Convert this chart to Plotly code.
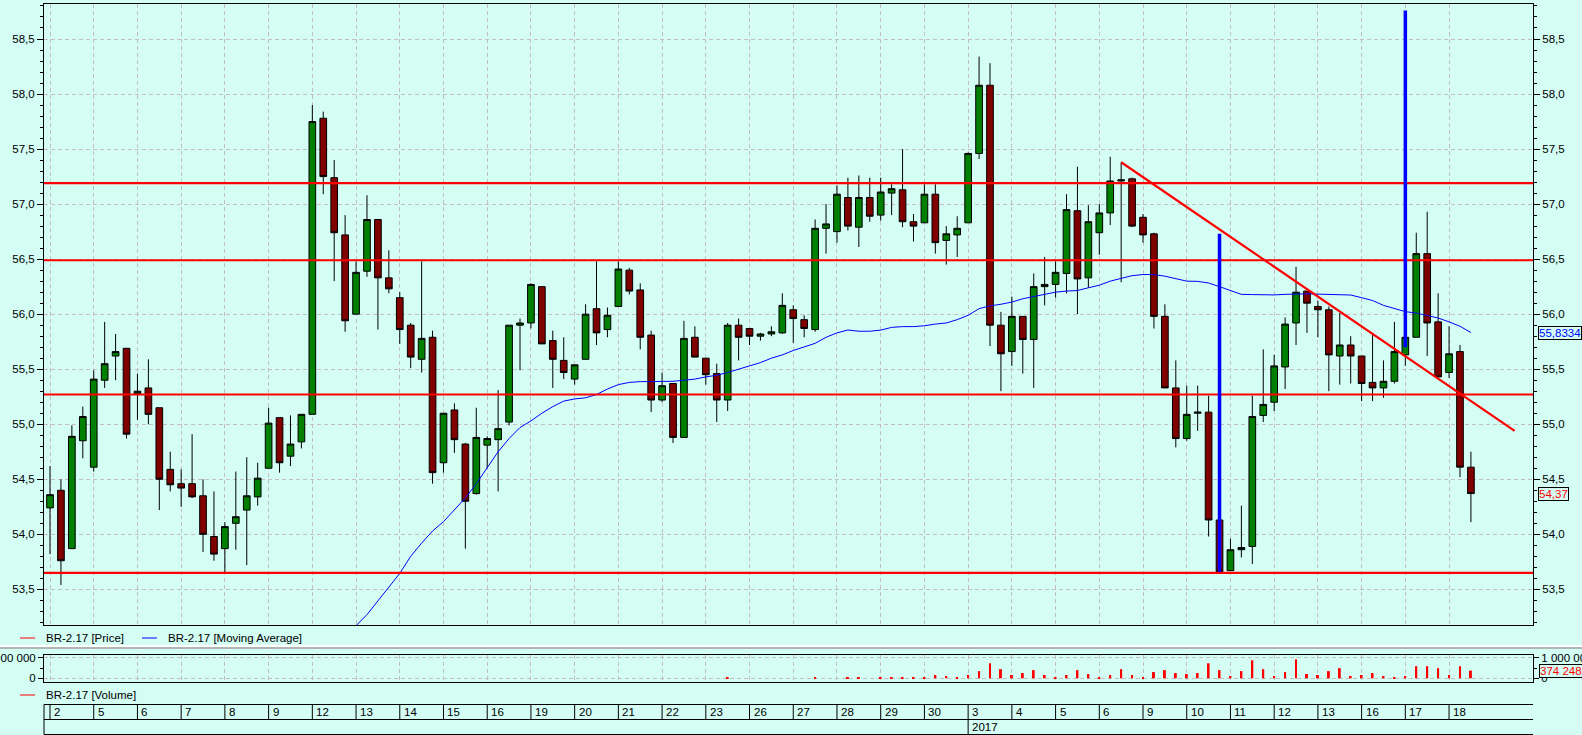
import plotly.graph_objects as go

# ---------------- data ----------------
day_labels = ['2', '5', '6', '7', '8', '9', '12', '13', '14', '15', '16', '19', '20', '21', '22',
              '23', '26', '27', '28', '29', '30', '3', '4', '5', '6', '9', '10', '11', '12', '13',
              '16', '17', '18']
bars_per_day = 4
year_label = '2017'
year_day = 21  # position of 3 Jan in day_labels

open_ = [54.24, 54.40, 53.87, 54.85, 54.61, 55.40, 55.62, 55.69, 55.28, 55.33,
         55.15, 54.59, 54.46, 54.46, 54.35, 53.98, 53.87, 54.10, 54.22, 54.34,
         54.60, 55.06, 54.71, 54.84, 55.09, 57.78, 57.24, 56.72, 56.00, 56.39,
         56.86, 56.33, 56.15, 55.90, 55.59, 55.79, 54.65, 55.13, 54.82, 54.37,
         54.81, 54.86, 55.02, 55.90, 55.92, 56.25, 55.76, 55.58, 55.41, 55.59,
         56.05, 55.86, 56.07, 56.40, 56.22, 55.81, 55.22, 55.37, 54.88, 55.79,
         55.60, 55.46, 55.22, 55.90, 55.87, 55.80, 55.82, 55.83, 56.04, 55.95,
         55.86, 56.78, 56.75, 57.06, 56.79, 57.06, 56.90, 57.10, 57.13, 56.84,
         56.83, 57.09, 56.67, 56.72, 56.83, 57.46, 58.08, 55.90, 55.66, 55.98,
         55.77, 56.25, 56.27, 56.37, 56.94, 56.33, 56.74, 56.92, 57.21, 57.23,
         56.88, 56.73, 55.98, 55.33, 54.87, 55.10, 55.11, 54.13, 53.67, 53.86,
         53.89, 55.08, 55.20, 55.52, 55.92, 56.21, 56.07, 56.04, 55.62, 55.72,
         55.62, 55.38, 55.33, 55.39, 55.63, 55.79, 56.55, 55.93, 55.47, 55.66,
         54.61]
high = [54.62, 54.50, 54.99, 55.16, 55.49, 55.93, 55.82, 55.69, 55.46, 55.59,
        55.15, 54.75, 54.59, 54.91, 54.50, 54.39, 54.11, 54.57, 54.70, 54.65,
        55.15, 55.06, 55.08, 55.09, 57.90, 57.84, 57.40, 56.90, 56.48, 57.08,
        56.86, 56.58, 56.20, 55.92, 56.48, 55.85, 55.10, 55.19, 54.83, 55.15,
        54.89, 55.31, 55.90, 55.96, 56.28, 56.25, 55.85, 55.79, 55.54, 56.09,
        56.48, 56.06, 56.48, 56.42, 56.28, 55.85, 55.47, 55.37, 55.94, 55.89,
        55.60, 55.55, 55.92, 55.96, 55.87, 55.83, 55.89, 56.19, 56.08, 55.99,
        56.86, 57.00, 57.17, 57.24, 57.26, 57.24, 57.24, 57.18, 57.50, 56.91,
        57.18, 57.18, 56.80, 56.89, 57.47, 58.34, 58.28, 56.02, 56.16, 55.98,
        56.37, 56.52, 56.48, 57.09, 57.34, 56.99, 57.00, 57.43, 57.38, 57.24,
        56.91, 56.74, 56.09, 55.58, 55.35, 55.35, 55.26, 54.13, 53.96, 54.26,
        55.26, 55.68, 55.63, 55.97, 56.43, 56.21, 56.12, 56.07, 56.01, 55.80,
        55.62, 55.82, 55.58, 55.93, 55.79, 56.74, 56.93, 56.19, 55.89, 55.72,
        54.75]
low = [53.82, 53.54, 53.87, 54.69, 54.57, 55.33, 55.40, 54.87, 55.04, 55.00,
       54.22, 54.39, 54.25, 54.33, 53.84, 53.76, 53.64, 53.86, 53.72, 54.26,
       54.60, 54.56, 54.62, 54.78, 55.09, 57.09, 56.30, 55.84, 56.00, 56.34,
       55.86, 56.19, 55.73, 55.51, 55.47, 54.46, 54.56, 54.74, 53.87, 54.36,
       54.60, 54.39, 54.99, 55.49, 55.87, 55.73, 55.33, 55.41, 55.36, 55.59,
       55.72, 55.79, 56.07, 56.18, 55.68, 55.11, 55.20, 54.83, 54.88, 55.61,
       55.36, 55.02, 55.12, 55.58, 55.72, 55.76, 55.80, 55.82, 55.74, 55.79,
       55.84, 56.55, 56.65, 56.76, 56.61, 56.84, 56.85, 56.90, 56.79, 56.66,
       56.83, 56.55, 56.45, 56.52, 56.83, 57.41, 55.71, 55.30, 55.53, 55.46,
       55.33, 56.08, 56.15, 56.19, 56.00, 56.24, 56.54, 56.81, 56.29, 56.79,
       56.65, 55.87, 55.33, 54.79, 54.85, 54.94, 53.98, 53.65, 53.67, 53.79,
       53.73, 55.02, 55.12, 55.32, 55.72, 55.83, 55.79, 55.30, 55.36, 55.37,
       55.21, 55.21, 55.24, 55.37, 55.53, 55.79, 55.62, 55.43, 55.42, 54.52,
       54.11]
close = [54.36, 53.76, 54.89, 55.07, 55.41, 55.55, 55.66, 54.91, 55.30, 55.09,
         54.50, 54.45, 54.42, 54.34, 54.00, 53.82, 54.07, 54.16, 54.35, 54.51,
         55.01, 54.65, 54.82, 55.09, 57.75, 57.25, 56.74, 55.94, 56.38, 56.86,
         56.33, 56.23, 55.86, 55.61, 55.78, 54.56, 55.10, 54.86, 54.30, 54.88,
         54.87, 54.96, 55.90, 55.92, 56.27, 55.73, 55.59, 55.47, 55.54, 56.00,
         55.83, 55.99, 56.41, 56.21, 55.79, 55.22, 55.35, 54.88, 55.78, 55.61,
         55.45, 55.22, 55.90, 55.79, 55.80, 55.82, 55.84, 56.08, 55.96, 55.87,
         56.78, 56.82, 57.09, 56.80, 57.06, 56.89, 57.11, 57.14, 56.84, 56.80,
         57.09, 56.65, 56.73, 56.78, 57.46, 58.08, 55.90, 55.64, 55.98, 55.77,
         56.25, 56.27, 56.38, 56.95, 56.32, 56.84, 56.92, 57.21, 57.22, 56.80,
         56.72, 55.98, 55.33, 54.87, 55.09, 55.11, 54.13, 53.66, 53.86, 53.88,
         55.07, 55.18, 55.53, 55.91, 56.20, 56.10, 56.04, 55.63, 55.72, 55.62,
         55.37, 55.33, 55.39, 55.66, 55.79, 56.55, 55.92, 55.43, 55.64, 54.61,
         54.37]
volume = [0] * 62 + [15000, 0, 0, 0, 0, 0, 0, 0, 15000, 0, 0, 15000, 15000, 0,
          20000, 25000, 63000, 20000, 15000, 159000, 111000, 63000, 159000, 349000,
          730000, 444000, 159000, 254000, 397000, 159000, 63000, 159000, 397000, 206000,
          63000, 159000, 444000, 159000, 63000, 302000, 397000, 254000, 206000, 254000,
          730000, 397000, 111000, 349000, 873000, 444000, 111000, 302000, 921000, 206000,
          159000, 349000, 492000, 111000, 159000, 254000, 111000, 63000, 111000, 587000,
          587000, 492000, 159000, 587000, 374248]

ma_start = 27
ma_values = [53.05, 53.17, 53.27, 53.40, 53.52, 53.645, 53.80, 53.92, 54.03, 54.115,
             54.22, 54.33, 54.46, 54.60, 54.75, 54.87, 54.97, 55.03, 55.10, 55.16,
             55.21, 55.23, 55.24, 55.27, 55.32, 55.36, 55.38, 55.387, 55.388, 55.388,
             55.39, 55.40, 55.41, 55.43, 55.445, 55.47, 55.50, 55.53, 55.56, 55.60,
             55.63, 55.67, 55.70, 55.735, 55.79, 55.83, 55.856, 55.845, 55.845, 55.855,
             55.88, 55.887, 55.887, 55.895, 55.91, 55.92, 55.95, 55.99, 56.05, 56.075,
             56.09, 56.11, 56.14, 56.16, 56.18, 56.20, 56.21, 56.215, 56.24, 56.263,
             56.30, 56.325, 56.35, 56.36, 56.36, 56.345, 56.32, 56.30, 56.298, 56.283,
             56.25, 56.215, 56.18, 56.178, 56.175, 56.175, 56.18, 56.185, 56.185, 56.182,
             56.18, 56.178, 56.174, 56.15, 56.124, 56.08, 56.05, 56.023, 56.01, 55.99,
             55.965, 55.93, 55.89, 55.8334]

levels = [57.19, 56.49, 55.27, 53.65]
trend_idx = [98, 134]
trend_price = [57.38, 54.94]
signal_idx = [107, 124]
signal_top = [56.73, 58.76]
signal_bottom = [53.66, 55.70]

# ---------------- geometry helpers ----------------
W, H = 1582, 735
ML, MR, MT, MB = 44, 49, 4, 0
PW, PH = W - ML - MR, H - MT - MB


def px(x):
    return (x - ML) / PW


def py(y):
    return (H - MB - y) / PH


BG = '#D4FDF4'
GRID = '#C4C0C0'
FONT = dict(family='Arial, Liberation Sans', size=11.5, color='black')
BOXFONT = dict(family='Arial, Liberation Sans', size=11.5)

idx = list(range(len(close)))
day_starts = [k * bars_per_day for k in range(len(day_labels))]
ma_idx = list(range(ma_start, ma_start + len(ma_values)))

fig = go.Figure()

fig.add_trace(go.Candlestick(
    x=idx, open=open_, high=high, low=low, close=close,
    increasing=dict(line=dict(color='black', width=1), fillcolor='#008000'),
    decreasing=dict(line=dict(color='black', width=1), fillcolor='#800000'),
    whiskerwidth=0, hoverinfo='skip', xaxis='x', yaxis='y'))

# moving average on the right-hand price axis (same range as left)
fig.add_trace(go.Scatter(x=ma_idx, y=ma_values, mode='lines',
                         line=dict(color='#0000FF', width=1), hoverinfo='skip',
                         xaxis='x', yaxis='y2'))

fig.add_trace(go.Bar(x=idx, y=volume, width=0.18, marker=dict(color='#FF0000', line=dict(width=0)),
                     hoverinfo='skip', xaxis='x2', yaxis='y3'))
# invisible companion so that the right-hand volume axis is drawn
fig.add_trace(go.Scatter(x=idx, y=volume, mode='lines', line=dict(width=0, color='rgba(0,0,0,0)'),
                         hoverinfo='skip', xaxis='x2', yaxis='y4'))

main_dom = [py(625), py(4)]
vol_dom = [py(682), py(655)]
xr = [-0.55, 135.68]
yr = [53.176, 58.818]
vr = [-180000, 1131000]

common_x = dict(range=xr, tickmode='array', tickvals=day_starts, showticklabels=False,
                ticks='', showgrid=True, gridcolor=GRID, griddash='4px,3px', gridwidth=1,
                showline=True, mirror=True, linecolor='black', linewidth=1, zeroline=False,
                fixedrange=True, automargin=False)

price_y = dict(range=yr, dtick=0.5, tick0=0, tickformat='.1f', ticks='outside', ticklen=6,
               tickcolor='black', showline=True, linecolor='black', linewidth=1,
               zeroline=False, fixedrange=True, tickfont=FONT, automargin=False,
               minor=dict(dtick=0.1, tick0=0, ticks='outside', ticklen=3, tickcolor='black',
                          showgrid=False))

vol_y = dict(range=vr, tickmode='array', tickvals=[0, 1000000], tickformat=',.0f',
             ticks='outside', ticklen=5, tickcolor='black', showline=True, linecolor='black',
             linewidth=1, zeroline=False, fixedrange=True, tickfont=FONT, automargin=False,
             ticklabeloverflow='allow',
             minor=dict(tickmode='array', tickvals=[500000], ticks='outside', ticklen=3,
                        tickcolor='black', showgrid=False))

fig.update_layout(
    width=W, height=H, margin=dict(l=ML, r=MR, t=MT, b=MB, pad=0, autoexpand=False),
    paper_bgcolor=BG, plot_bgcolor=BG, font=FONT, separators=', ',
    showlegend=False, hovermode=False, boxgap=0.39, boxgroupgap=0,
    xaxis=dict(common_x, domain=[0, 1], anchor='y', rangeslider=dict(visible=False)),
    xaxis2=dict(common_x, domain=[0, 1], anchor='y3', matches='x'),
    yaxis=dict(price_y, domain=main_dom, anchor='x', side='left', showgrid=True,
               gridcolor=GRID, griddash='4px,3px', mirror=True),
    yaxis2=dict(price_y, domain=main_dom, anchor='x', side='right', overlaying='y',
                showgrid=False),
    yaxis3=dict(vol_y, domain=vol_dom, anchor='x2', side='left', showgrid=True,
                gridcolor=GRID, griddash='4px,3px', mirror=True),
    yaxis4=dict(vol_y, domain=vol_dom, anchor='x2', side='right', overlaying='y3',
                showgrid=False),
)

shapes = []
# horizontal support/resistance levels
for lv in levels:
    shapes.append(dict(type='line', xref='paper', yref='y', x0=0, x1=1, y0=lv, y1=lv,
                       line=dict(color='#FF0000', width=2.2), layer='above'))
# trend line
shapes.append(dict(type='line', xref='x', yref='y', x0=trend_idx[0], x1=trend_idx[1],
                   y0=trend_price[0], y1=trend_price[1],
                   line=dict(color='#FF0000', width=2.2), layer='above'))
# blue signal bars
for si, st, sb in zip(signal_idx, signal_top, signal_bottom):
    shapes.append(dict(type='line', xref='x', yref='y', x0=si, x1=si, y0=sb, y1=st,
                       line=dict(color='#0000FF', width=3.5), layer='above'))

# separator between panes
shapes.append(dict(type='line', xref='paper', yref='paper', x0=px(0), x1=px(W), y0=py(646),
                   y1=py(646), line=dict(color='white', width=2)))
shapes.append(dict(type='line', xref='paper', yref='paper', x0=px(0), x1=px(W), y0=py(648),
                   y1=py(648), line=dict(color='#A0A0A0', width=1.5)))

# date axis box
for yy in (704.5, 719.5, 734.5):
    shapes.append(dict(type='line', xref='paper', yref='paper', x0=0, x1=1, y0=py(yy), y1=py(yy),
                       line=dict(color='black', width=1)))
shapes.append(dict(type='line', xref='paper', yref='paper', x0=0, x1=0, y0=py(704.5),
                   y1=py(734.5), line=dict(color='black', width=1)))
for d in day_starts:
    shapes.append(dict(type='line', xref='x', yref='paper', x0=d, x1=d, y0=py(704.5),
                       y1=py(719.5), line=dict(color='black', width=1)))
yd = day_starts[year_day]
shapes.append(dict(type='line', xref='x', yref='paper', x0=yd, x1=yd, y0=py(719.5),
                   y1=py(734.5), line=dict(color='black', width=1)))

# legend dashes
shapes.append(dict(type='line', xref='paper', yref='paper', x0=px(20), x1=px(35), y0=py(638),
                   y1=py(638), line=dict(color='#FF0000', width=1)))
shapes.append(dict(type='line', xref='paper', yref='paper', x0=px(142), x1=px(157), y0=py(638),
                   y1=py(638), line=dict(color='#0000FF', width=1)))
shapes.append(dict(type='line', xref='paper', yref='paper', x0=px(20), x1=px(35), y0=py(695),
                   y1=py(695), line=dict(color='#FF0000', width=1)))

annotations = []
annotations.append(dict(xref='paper', yref='paper', x=px(44), y=py(638), text='BR-2.17 [Price]',
                        showarrow=False, xanchor='left', yanchor='middle', font=FONT))
annotations.append(dict(xref='paper', yref='paper', x=px(166), y=py(638),
                        text='BR-2.17 [Moving Average]', showarrow=False, xanchor='left',
                        yanchor='middle', font=FONT))
annotations.append(dict(xref='paper', yref='paper', x=px(44), y=py(695), text='BR-2.17 [Volume]',
                        showarrow=False, xanchor='left', yanchor='middle', font=FONT))
for d, lab in zip(day_starts, day_labels):
    annotations.append(dict(xref='x', yref='paper', x=d, y=py(712), text=lab, showarrow=False,
                            xanchor='left', yanchor='middle', xshift=2, font=FONT))
annotations.append(dict(xref='x', yref='paper', x=yd, y=py(727), text=year_label,
                        showarrow=False, xanchor='left', yanchor='middle', xshift=2,
                        font=FONT))

# last value boxes on right
annotations.append(dict(xref='paper', yref='y', x=1, y=ma_values[-1],
                        text=f'{ma_values[-1]:.4f}'.replace('.', ','), showarrow=False,
                        xanchor='left', yanchor='middle', xshift=5, bgcolor=BG,
                        bordercolor='black', borderwidth=1, borderpad=0,
                        font=dict(BOXFONT, color='#0000FF')))
annotations.append(dict(xref='paper', yref='y', x=1, y=close[-1],
                        text=f'{close[-1]:.2f}'.replace('.', ','), showarrow=False,
                        xanchor='left', yanchor='middle', xshift=5, bgcolor=BG,
                        bordercolor='black', borderwidth=1, borderpad=0,
                        font=dict(BOXFONT, color='#FF0000')))
annotations.append(dict(xref='paper', yref='y3', x=1, y=volume[-1],
                        text=f'{volume[-1]:,}'.replace(',', ' '), showarrow=False,
                        xanchor='left', yanchor='middle', xshift=6, bgcolor=BG,
                        bordercolor='black', borderwidth=1, borderpad=0,
                        font=dict(BOXFONT, color='#FF0000')))

fig.update_layout(shapes=shapes, annotations=annotations)
fig.write_html('out.html', config={'displayModeBar': False},
               post_script="document.body.style.margin='0px';"
                           "document.body.style.padding='0px';"
                           "document.body.style.overflow='hidden';")
